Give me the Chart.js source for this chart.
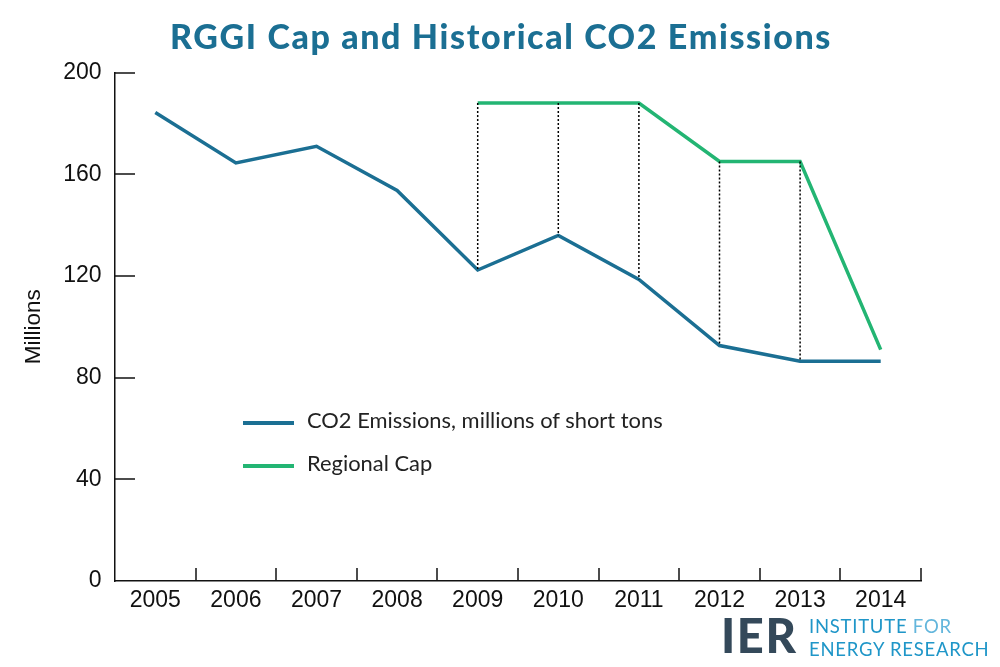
<!DOCTYPE html>
<html>
<head>
<meta charset="utf-8">
<title>RGGI Cap and Historical CO2 Emissions</title>
<script src="https://cdn.jsdelivr.net/npm/chart.js@4"></script>
<style>
  html,body{margin:0;padding:0;background:#fff;overflow:hidden}
  #wrap{position:relative;width:1000px;height:667px}
  canvas{position:absolute;left:0;top:0}
  #title{position:absolute;left:0;width:1002px;top:15px;text-align:center;font:900 34px Lato,sans-serif;letter-spacing:1.62px;color:#1b6f93}
  .leg{position:absolute;left:243px;font:21.9px Lato,sans-serif;color:#222;white-space:nowrap}
  .leg i{position:absolute;left:0;top:15px;width:51px;height:3.5px}
  .leg span{margin-left:64px}
  #logo{position:absolute;left:721px;top:617px;height:40px}
  #ier{position:absolute;left:0;top:-10px;font:900 47px Lato,sans-serif;letter-spacing:1.6px;color:#34495a}
  #org{position:absolute;left:88px;top:-2px;font:18.5px/23px Lato,sans-serif;letter-spacing:.75px;color:#1f96c8;white-space:nowrap}
  #org b{font-weight:400;color:#63b6dc}
</style>
</head>
<body>
<div id="wrap">
  <canvas id="chart" width="1000" height="667"></canvas>
  <div id="title">RGGI Cap and Historical CO2 Emissions</div>
  <div class="leg" id="leg0" style="top:406px"></div>
  <div class="leg" id="leg1" style="top:449px"></div>
  <div id="logo">
    <div id="ier">IER</div>
    <div id="org">INSTITUTE <b>FOR</b><br>ENERGY RESEARCH</div>
  </div>
</div>
<script>
const years = ['2005','2006','2007','2008','2009','2010','2011','2012','2013','2014'];
const emissions = [184.3,164.4,171.0,153.6,122.3,135.9,118.6,92.6,86.4,86.4];
const regionalCap = [null,null,null,null,188,188,188,165,165,91];
const yTicks = [0,40,80,120,160,200];
const emissionsName = 'CO2 Emissions, millions of short tons';
const capName = 'Regional Cap';
const blue = '#1b6f93', green = '#23b573';

// dotted drop lines between the two series, plus the inward tick marks
const extras = {
  id:'extras',
  afterDatasetsDraw(c){
    const ctx=c.ctx, x=c.scales.x, y=c.scales.y, a=c.chartArea;
    const band=a.width/years.length;
    ctx.save();
    ctx.strokeStyle='#000';
    ctx.lineWidth=1.5;
    ctx.setLineDash([2,2]);
    years.forEach((yr,i)=>{
      if(regionalCap[i]==null || i==years.length-1) return;
      const px=x.getPixelForValue(i);
      ctx.beginPath();
      ctx.moveTo(px,y.getPixelForValue(regionalCap[i]));
      ctx.lineTo(px,y.getPixelForValue(emissions[i]));
      ctx.stroke();
    });
    ctx.setLineDash([]);
    ctx.lineWidth=1.5;
    ctx.strokeStyle='#111';
    years.forEach((yr,i)=>{
      const px=Math.round(x.getPixelForValue(i)+band/2);
      ctx.beginPath(); ctx.moveTo(px,a.bottom); ctx.lineTo(px,a.bottom-13); ctx.stroke();
    });
    yTicks.forEach(v=>{
      if(v==0) return;
      const py=Math.round(y.getPixelForValue(v));
      ctx.beginPath(); ctx.moveTo(a.left,py); ctx.lineTo(a.left+20,py); ctx.stroke();
    });
    ctx.restore();
  }
};

new Chart(document.getElementById('chart').getContext('2d'),{
  type:'line',
  data:{labels:years,datasets:[
    {label:emissionsName,data:emissions,borderColor:blue,borderWidth:3.5,pointRadius:0,tension:0,borderJoinStyle:'miter'},
    {label:capName,data:regionalCap,borderColor:green,borderWidth:3.5,pointRadius:0,tension:0,borderJoinStyle:'miter'}
  ]},
  options:{
    responsive:false,animation:false,
    layout:{padding:{left:0,right:79,top:72.5,bottom:0}},
    plugins:{legend:{display:false},tooltip:{enabled:false},title:{display:false}},
    scales:{
      x:{
        offset:true,
        afterFit(s){s.height=86;},
        grid:{display:false},
        border:{display:true,color:'#111',width:1.5},
        ticks:{color:'#111',padding:-2,maxRotation:0,font:{family:'"Liberation Sans"',size:23}}
      },
      y:{
        min:0,max:200,
        afterFit(s){s.width=115;},
        afterBuildTicks(s){s.ticks=yTicks.map(v=>({value:v}));},
        grid:{display:false},
        border:{display:true,color:'#111',width:1.5},
        title:{display:true,text:'Millions',color:'#111',padding:{top:20,bottom:0},font:{family:'"Liberation Sans"',size:22.5}},
        ticks:{color:'#111',padding:5.5,font:{family:'"Liberation Sans"',size:23}}
      }
    }
  },
  plugins:[extras]
});

document.getElementById('leg0').innerHTML='<i style="background:'+blue+'"></i><span>'+emissionsName+'</span>';
document.getElementById('leg1').innerHTML='<i style="background:'+green+'"></i><span>'+capName+'</span>';
</script>
</body>
</html>
